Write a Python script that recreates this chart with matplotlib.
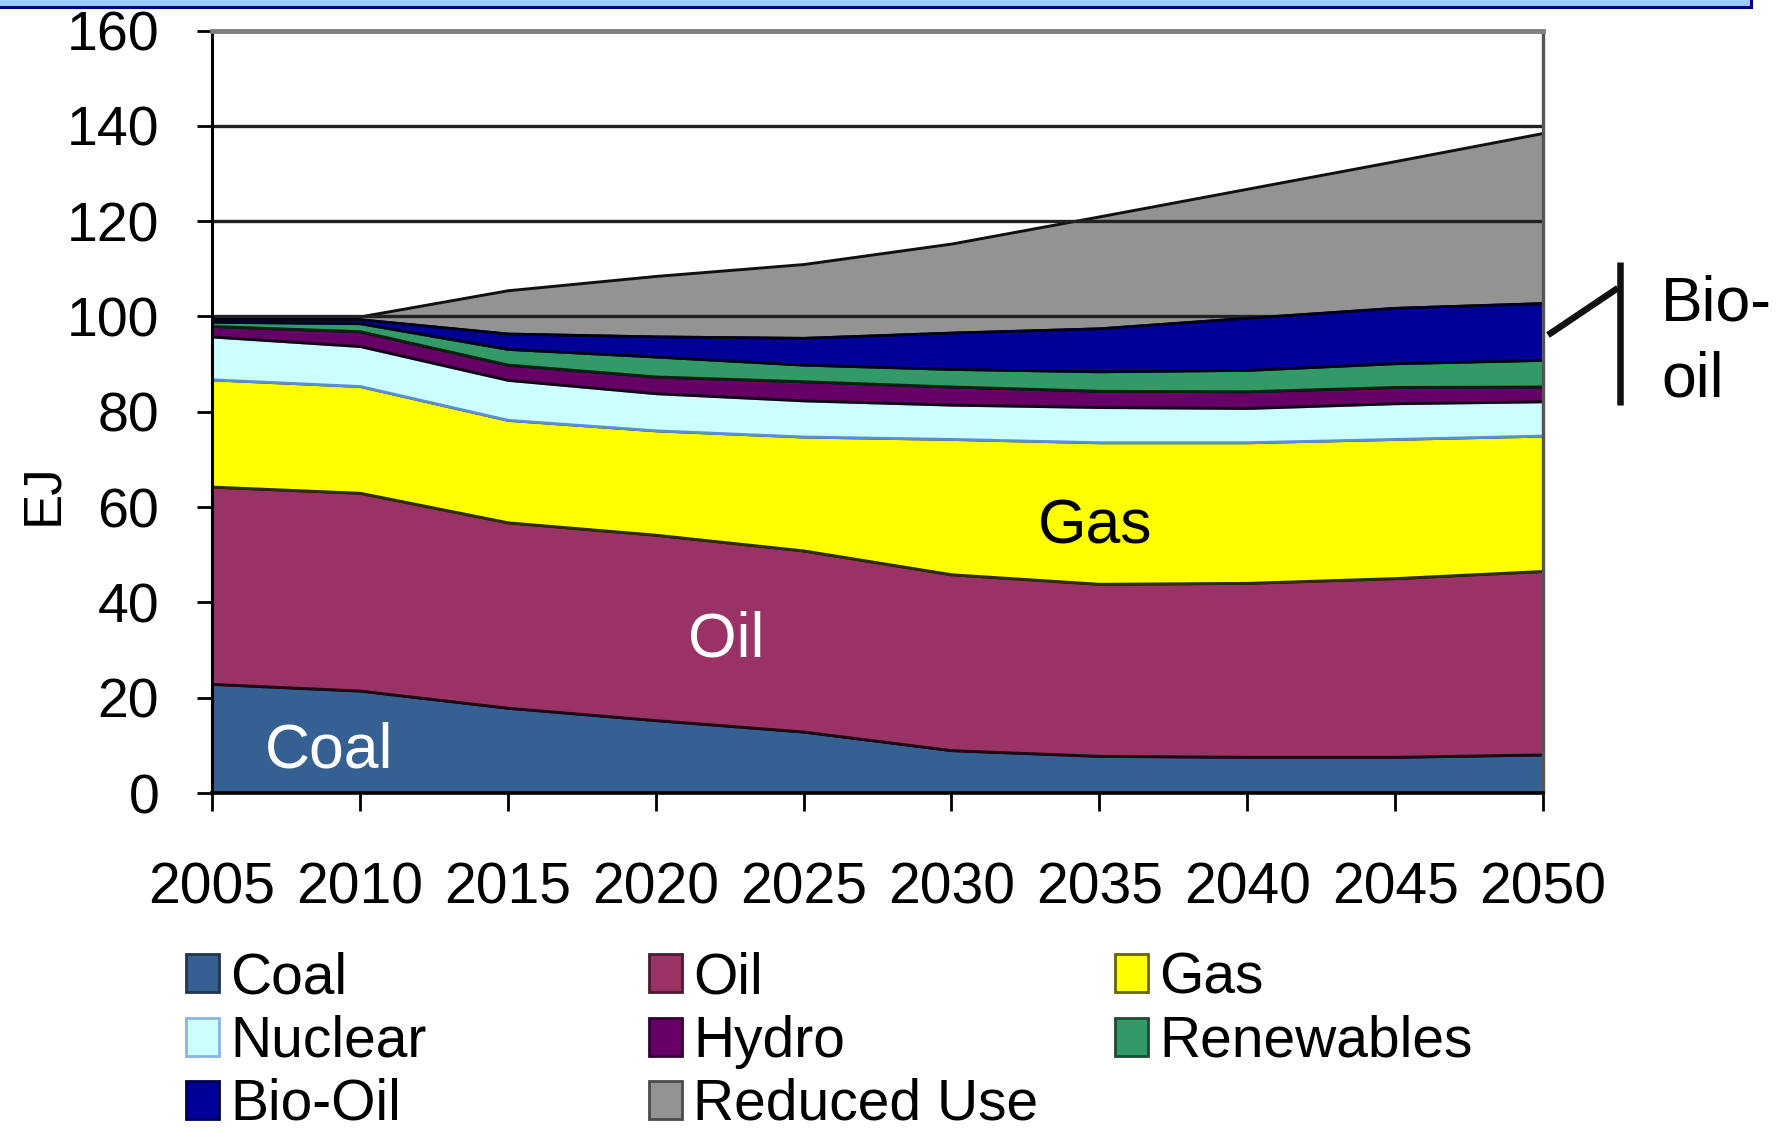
import numpy as np
import matplotlib
matplotlib.use('Agg')
import matplotlib.pyplot as plt
from matplotlib.patches import Patch, Rectangle
from matplotlib.lines import Line2D

plt.rcParams['font.family'] = ['Liberation Sans', 'DejaVu Sans']

#----------------------------------------------------- DATA (EJ)
years = [2005, 2010, 2015, 2020, 2025, 2030, 2035, 2040, 2045, 2050]
coal = [22.9, 21.5, 17.9, 15.3, 12.9, 9.0, 7.8, 7.6, 7.6, 8.1]
oil = [41.4, 41.5, 38.9, 38.9, 38.0, 36.9, 36.1, 36.5, 37.5, 38.5]
gas = [22.5, 22.4, 21.5, 21.9, 23.9, 28.4, 29.7, 29.5, 29.2, 28.4]
nuclear = [9.0, 8.4, 8.4, 7.8, 7.6, 7.2, 7.4, 7.2, 7.5, 7.2]
hydro = [2.2, 3.1, 3.2, 3.5, 4.0, 3.8, 3.4, 3.5, 3.4, 3.1]
renewables = [0.9, 1.7, 3.3, 4.2, 3.5, 3.7, 4.1, 4.5, 5.0, 5.6]
bio_oil = [0.6, 0.8, 3.2, 4.2, 5.6, 7.6, 9.0, 10.9, 11.6, 11.9]
reduced_use = [0.5, 0.6, 9.1, 12.7, 15.5, 18.7, 23.5, 27.1, 30.8, 35.7]

labels = ['Coal', 'Oil', 'Gas', 'Nuclear', 'Hydro', 'Renewables', 'Bio-Oil', 'Reduced Use']
fills = ['#376092', '#993366', '#FFFF00', '#CCFFFF', '#660066', '#339966', '#000099', '#939393']
edges = ['#0d1420', '#1e0712', '#2e2e00', '#5b8fd5', '#140014', '#08200f', '#00001e', '#101010']
key_edges = ['#1f3550', '#4c1a33', '#666600', '#88b4e6', '#330033', '#1a4d33', '#00004d', '#4b4b4b']

yticks = list(range(0, 161, 20))

#----------------------------------------------------- FIGURE
fig = plt.figure(figsize=(17.84, 11.30), dpi=100)
ax = fig.add_axes([0.1188, 0.2982, 0.7461, 0.6748])

series = [coal, oil, gas, nuclear, hydro, renewables, bio_oil, reduced_use]
base = np.zeros(len(years))
for i, vals in enumerate(series):
    top = base + np.array(vals)
    z = 1 if labels[i] == 'Reduced Use' else 2 + i * 0.01  # grid shows through the grey band
    ax.fill_between(years, base, top, facecolor=fills[i], edgecolor=edges[i],
                    linewidth=2.1, zorder=z)
    base = top

ax.set_xlim(years[0], years[-1])
ax.set_ylim(0, 160)
ax.set_xticks(years)
ax.set_yticks(yticks)
ax.yaxis.grid(True, color='#222222', linewidth=2.4)
ax.set_axisbelow('line')

ax.tick_params(axis='y', direction='out', length=11, width=2, pad=27, labelsize=40)
ax.tick_params(axis='x', direction='out', length=13, width=2, pad=36, labelsize=41)

ax.spines['left'].set_color('black')
ax.spines['left'].set_linewidth(2.2)
ax.spines['bottom'].set_color('black')
ax.spines['bottom'].set_linewidth(2.6)
ax.spines['top'].set_color('#7f7f7f')
ax.spines['top'].set_linewidth(3.5)
ax.spines['right'].set_color('#555555')
ax.spines['right'].set_linewidth(2.4)

ax.set_ylabel('EJ', fontsize=38)
ax.yaxis.set_label_coords(-0.108, 0.392)

# in-chart labels
ax.text(2008.95, 5.3, 'Coal', color='white', fontsize=45, ha='center', va='baseline', zorder=5)
ax.text(2022.4, 28.7, 'Oil', color='white', fontsize=45, ha='center', va='baseline', zorder=5)
ax.text(2034.85, 52.3, 'Gas', color='black', fontsize=45, ha='center', va='baseline', zorder=5)

#----------------------------------------------------- BIO-OIL CALLOUT
fig.add_artist(Line2D([0.9081, 0.9081], [0.7681, 0.6416], transform=fig.transFigure,
                      color='#111111', linewidth=4.7, solid_capstyle='butt'))
fig.add_artist(Line2D([0.8677, 0.9069], [0.7035, 0.7451], transform=fig.transFigure,
                      color='#111111', linewidth=4.7, solid_capstyle='butt'))
fig.text(0.931, 0.7168, 'Bio-', fontsize=45, ha='left', va='baseline')
fig.text(0.931, 0.6487, 'oil', fontsize=45, ha='left', va='baseline')

#----------------------------------------------------- LEGEND (3 columns)
handles = [Patch(facecolor=fills[i], edgecolor=key_edges[i], linewidth=2.0, label=labels[i])
           for i in range(len(labels))]
cols = [[0, 3, 6], [1, 4, 7], [2, 5]]
col_x = [0.1043, 0.3638, 0.625]
for cx, idx in zip(col_x, cols):
    fig.legend(handles=[handles[i] for i in idx], loc='upper left', bbox_to_anchor=(cx, 0.158),
               frameon=False, fontsize=41, borderpad=0, borderaxespad=0,
               handlelength=0.58, handleheight=0.65, handletextpad=0.2, labelspacing=0.16)

#----------------------------------------------------- slide title bar edge
fig.add_artist(Rectangle((-0.01, 1 - 7 / 1130), 1751 / 1784 + 0.01, 0.05, transform=fig.transFigure,
                         facecolor='#99CCFF', edgecolor='#000080', linewidth=2.2))

fig.savefig('out.png', dpi=100)
